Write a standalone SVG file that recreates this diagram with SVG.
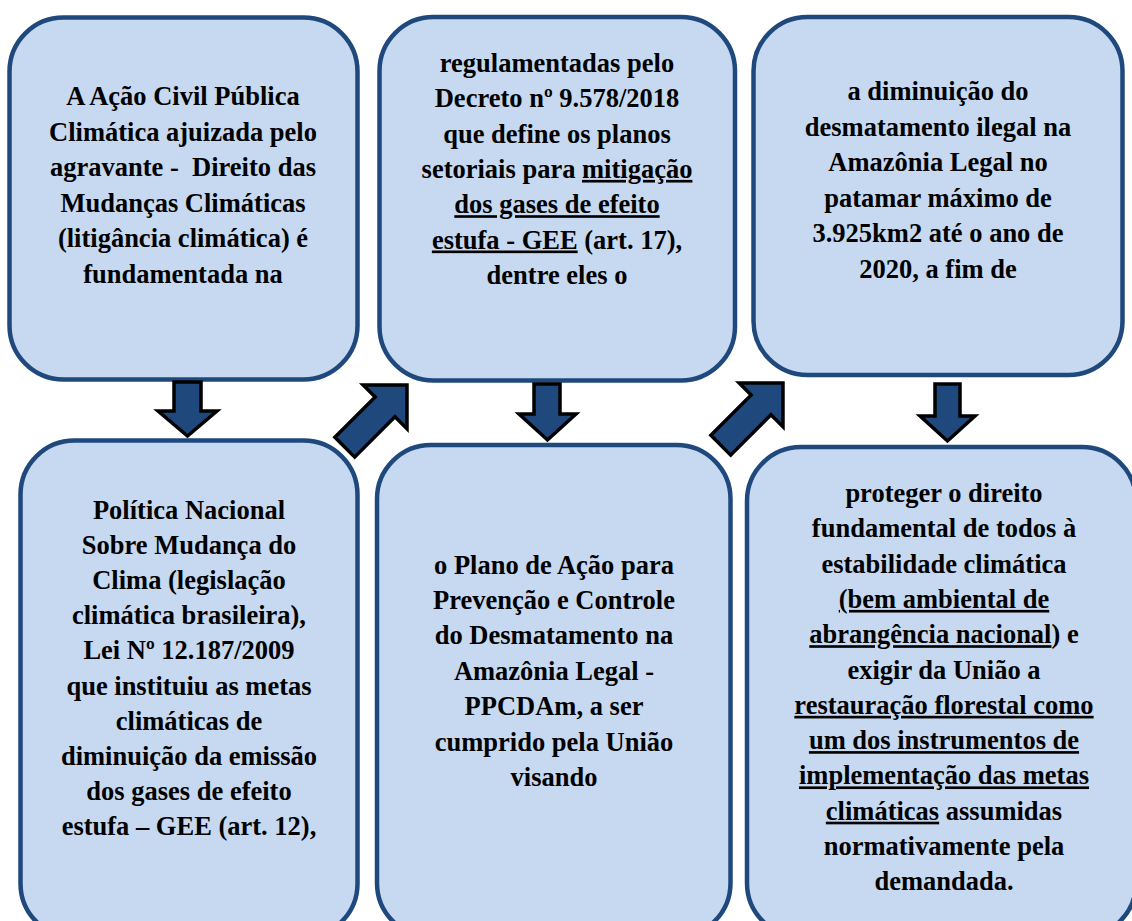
<svg xmlns="http://www.w3.org/2000/svg" width="1132" height="921" viewBox="0 0 1132 921">
<defs>
<style>
.box{fill:#C6D9F1;stroke:#1F497D;stroke-width:4.5}
.arr{fill:#1F497D;stroke:#000;stroke-width:3.5;stroke-linejoin:miter}
.t{font-weight:bold;font-size:26.5px;fill:#000;text-anchor:middle}
.u{text-decoration:underline}
</style>
<polygon id="diag" points="0,0 -31,-31 -31,-14 -88,-14 -88,14 -31,14 -31,31"/>
</defs>
<rect width="1132" height="921" fill="#fff"/>

<g id="node1">
<rect class="box" x="9.5" y="17.5" width="348" height="362" rx="54"/>
<g class="t" font-family="Liberation Serif, Tinos, Times New Roman, serif">
<text x="183" y="105">A Ação Civil Pública</text>
<text x="183" y="140.5">Climática ajuizada pelo</text>
<text x="183" y="176" xml:space="preserve">agravante -  Direito das</text>
<text x="183" y="211.5">Mudanças Climáticas</text>
<text x="183" y="247">(litigância climática) é</text>
<text x="183" y="282.5">fundamentada na</text>
</g>
</g>

<g id="node2">
<rect class="box" x="379.5" y="17" width="355.5" height="363.5" rx="54"/>
<g class="t" font-family="Liberation Serif, Tinos, Times New Roman, serif">
<text x="557" y="72">regulamentadas pelo</text>
<text x="557" y="107.3">Decreto nº 9.578/2018</text>
<text x="557" y="142.6">que define os planos</text>
<text x="557" y="177.9">setoriais para <tspan class="u">mitigação</tspan></text>
<text x="557" y="213.2"><tspan class="u">dos gases de efeito</tspan></text>
<text x="557" y="248.5"><tspan class="u">estufa - GEE</tspan> (art. 17),</text>
<text x="557" y="283.8">dentre eles o</text>
</g>
</g>

<g id="node3">
<rect class="box" x="753.5" y="17" width="369" height="358" rx="54"/>
<g class="t" font-family="Liberation Serif, Tinos, Times New Roman, serif">
<text x="938" y="100">a diminuição do</text>
<text x="938" y="135.6">desmatamento ilegal na</text>
<text x="938" y="171.2">Amazônia Legal no</text>
<text x="938" y="206.8">patamar máximo de</text>
<text x="938" y="242.4">3.925km2 até o ano de</text>
<text x="938" y="278">2020, a fim de</text>
</g>
</g>

<g id="node4">
<rect class="box" x="20.5" y="440.5" width="337" height="497" rx="54"/>
<g class="t" font-family="Liberation Serif, Tinos, Times New Roman, serif">
<text x="189" y="518.5">Política Nacional</text>
<text x="189" y="553.7">Sobre Mudança do</text>
<text x="189" y="588.9">Clima (legislação</text>
<text x="189" y="624.1">climática brasileira),</text>
<text x="189" y="659.3">Lei Nº 12.187/2009</text>
<text x="189" y="694.5">que instituiu as metas</text>
<text x="189" y="729.7">climáticas de</text>
<text x="189" y="764.9">diminuição da emissão</text>
<text x="189" y="800.1">dos gases de efeito</text>
<text x="189" y="835.3">estufa – GEE (art. 12),</text>
</g>
</g>

<g id="node5">
<rect class="box" x="377" y="445" width="353.5" height="492" rx="54"/>
<g class="t" font-family="Liberation Serif, Tinos, Times New Roman, serif">
<text x="554" y="573.5">o Plano de Ação para</text>
<text x="554" y="608.9">Prevenção e Controle</text>
<text x="554" y="644.3">do Desmatamento na</text>
<text x="554" y="679.7">Amazônia Legal -</text>
<text x="554" y="715.1">PPCDAm, a ser</text>
<text x="554" y="750.5">cumprido pela União</text>
<text x="554" y="785.9">visando</text>
</g>
</g>

<g id="node6">
<rect class="box" x="747" y="447" width="389" height="490" rx="54"/>
<g class="t" font-family="Liberation Serif, Tinos, Times New Roman, serif">
<text x="944" y="502">proteger o direito</text>
<text x="944" y="537.3">fundamental de todos à</text>
<text x="944" y="572.6">estabilidade climática</text>
<text x="944" y="607.9"><tspan class="u">(bem ambiental de</tspan></text>
<text x="944" y="643.2"><tspan class="u">abrangência nacional</tspan>) e</text>
<text x="944" y="678.5">exigir da União a</text>
<text x="944" y="713.8"><tspan class="u">restauração florestal como</tspan></text>
<text x="944" y="749.1"><tspan class="u">um dos instrumentos de</tspan></text>
<text x="944" y="784.4"><tspan class="u">implementação das metas</tspan></text>
<text x="944" y="819.7"><tspan class="u">climáticas</tspan> assumidas</text>
<text x="944" y="855">normativamente pela</text>
<text x="944" y="890.3">demandada.</text>
</g>
</g>

<g id="connectors">
<polygon class="arr" points="174,382 201,382 201,411 217,411 187.5,436 158,411 174,411"/>
<polygon class="arr" points="534,384 560,384 560,414 576,414 547.5,440 519,414 534,414"/>
<polygon class="arr" points="935,384 960,384 960,416 975,416 947.5,441 920,416 935,416"/>
<use href="#diag" class="arr" transform="translate(407,385) rotate(-45)"/>
<use href="#diag" class="arr" transform="translate(783,383) rotate(-45)"/>
</g>
</svg>
